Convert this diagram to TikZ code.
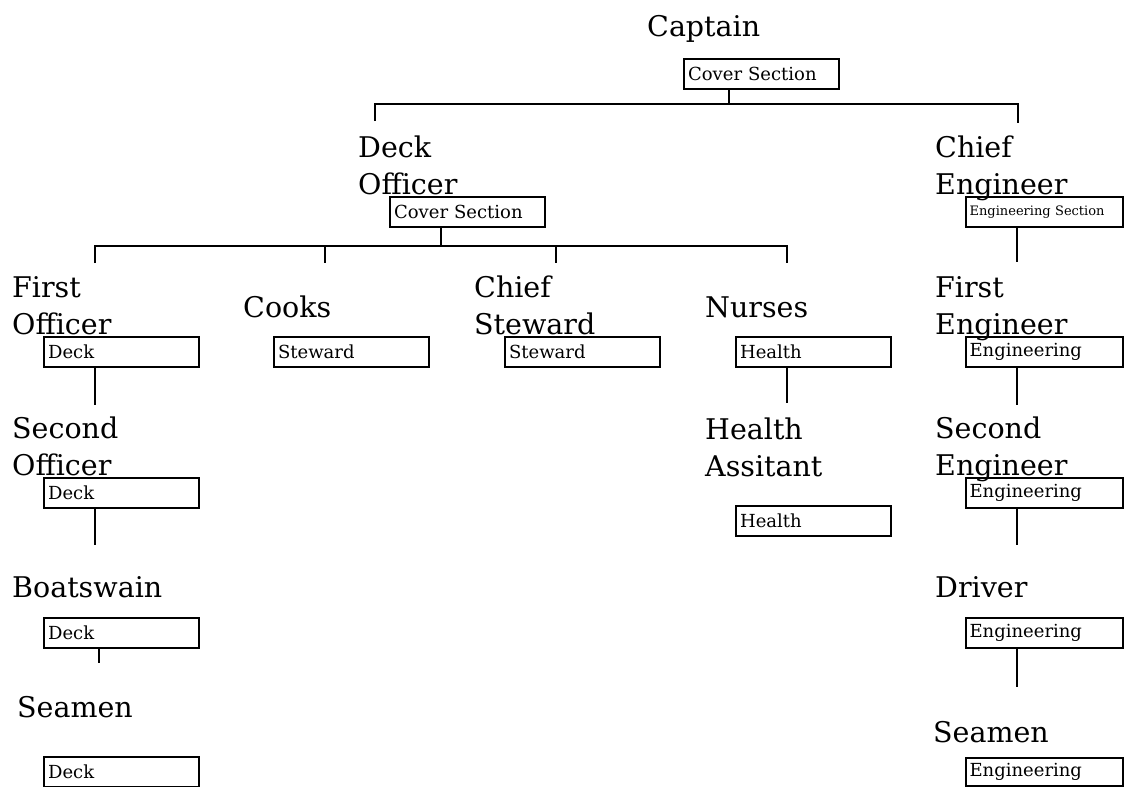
\documentclass[tikz,border=0pt]{standalone}
\usepackage{fontspec}
\setmainfont{DejaVu Serif}
\begin{document}
\begin{tikzpicture}[x=1pt,y=-1pt,
  title/.style={anchor=base west,inner sep=0pt,align=left,font=\fontsize{28.5}{37}\selectfont},
  unitbox/.style={draw,line width=2.2pt,minimum width=155pt,minimum height=30pt,inner sep=0pt,anchor=north west,
     text width=147pt,align=left,font=\fontsize{18}{20}\selectfont},
  conn/.style={line width=2.2pt}]
\useasboundingbox (0,0) rectangle (1125,787);
% titles (anchored at the baseline of the last line)
\node[title] (tcap) at (647,36) {Captain};
\node[title] (tdo) at (358,194) {Deck\\Officer};
\node[title] (tce) at (935,194) {Chief\\Engineer};
\node[title] (tfo) at (12,334) {First\\Officer};
\node[title] (tco) at (243,317) {Cooks};
\node[title] (tcs) at (474,334) {Chief\\Steward};
\node[title] (tnu) at (705,317) {Nurses};
\node[title] (tfe) at (935,334) {First\\Engineer};
\node[title] (tso) at (12,475) {Second\\Officer};
\node[title] (tha) at (705,476) {Health\\Assitant};
\node[title] (tse) at (935,475) {Second\\Engineer};
\node[title] (tbo) at (12,597) {Boatswain};
\node[title] (tdr) at (935,597) {Driver};
\node[title] (tsl) at (17,717) {Seamen};
\node[title] (tsr) at (933,742) {Seamen};
% boxes
\node[unitbox] (bcap) at (683,58) {Cover Section};
\node[unitbox] (bdo) at (389,196) {Cover Section};
\node[unitbox,minimum width=157pt,text width=150pt,font=\fontsize{13}{15}\selectfont] (bce) at (965,196) {Engineering Section};
\node[unitbox] (bfo) at (43,336) {Deck};
\node[unitbox] (bco) at (273,336) {Steward};
\node[unitbox] (bcs) at (504,336) {Steward};
\node[unitbox] (bnu) at (735,336) {Health};
\node[unitbox,minimum width=157pt,text width=150pt] (bfe) at (965,336) {Engineering};
\node[unitbox] (bso) at (43,477) {Deck};
\node[unitbox] (bha) at (735,505) {Health};
\node[unitbox,minimum width=157pt,text width=150pt] (bse) at (965,477) {Engineering};
\node[unitbox] (bbo) at (43,617) {Deck};
\node[unitbox,minimum width=157pt,text width=150pt] (bdr) at (965,617) {Engineering};
\node[unitbox] (bsl) at (43,756) {Deck};
\node[unitbox,minimum width=157pt,text width=150pt,minimum height=28pt] (bsr) at (965,757) {Engineering};
% junction coordinates
\coordinate (j1) at (729,104);
\coordinate (j1l) at (375,104);
\coordinate (j1r) at (1018,104);
\coordinate (e1l) at (375,121);
\coordinate (e1r) at (1018,123);
\coordinate (j2) at (441,246);
\coordinate (j2a) at (95,246);
\coordinate (j2b) at (325,246);
\coordinate (j2c) at (556,246);
\coordinate (j2d) at (787,246);
\coordinate (e2a) at (95,263);
\coordinate (e2b) at (325,263);
\coordinate (e2c) at (556,263);
\coordinate (e2d) at (787,263);
\coordinate (ece) at (1017,262);
\coordinate (efo) at (95,405);
\coordinate (enu) at (787,403);
\coordinate (efe) at (1017,405);
\coordinate (eso) at (95,545);
\coordinate (ese) at (1017,545);
\coordinate (ebo) at (99,663);
\coordinate (edr) at (1017,687);
% connectors
\draw[conn] (bcap.south -| j1) -- (j1);
\draw[conn] (e1l) -- (j1l) -- (j1r) -- (e1r);
\draw[conn] (bdo.south -| j2) -- (j2);
\draw[conn] (e2a) -- (j2a) -- (j2d) -- (e2d);
\draw[conn] (j2b) -- (e2b);
\draw[conn] (j2c) -- (e2c);
\draw[conn] (bce.south -| ece) -- (ece);
\draw[conn] (bfo.south -| efo) -- (efo);
\draw[conn] (bnu.south -| enu) -- (enu);
\draw[conn] (bfe.south -| efe) -- (efe);
\draw[conn] (bso.south -| eso) -- (eso);
\draw[conn] (bse.south -| ese) -- (ese);
\draw[conn] (bbo.south -| ebo) -- (ebo);
\draw[conn] (bdr.south -| edr) -- (edr);
\end{tikzpicture}
\end{document}
